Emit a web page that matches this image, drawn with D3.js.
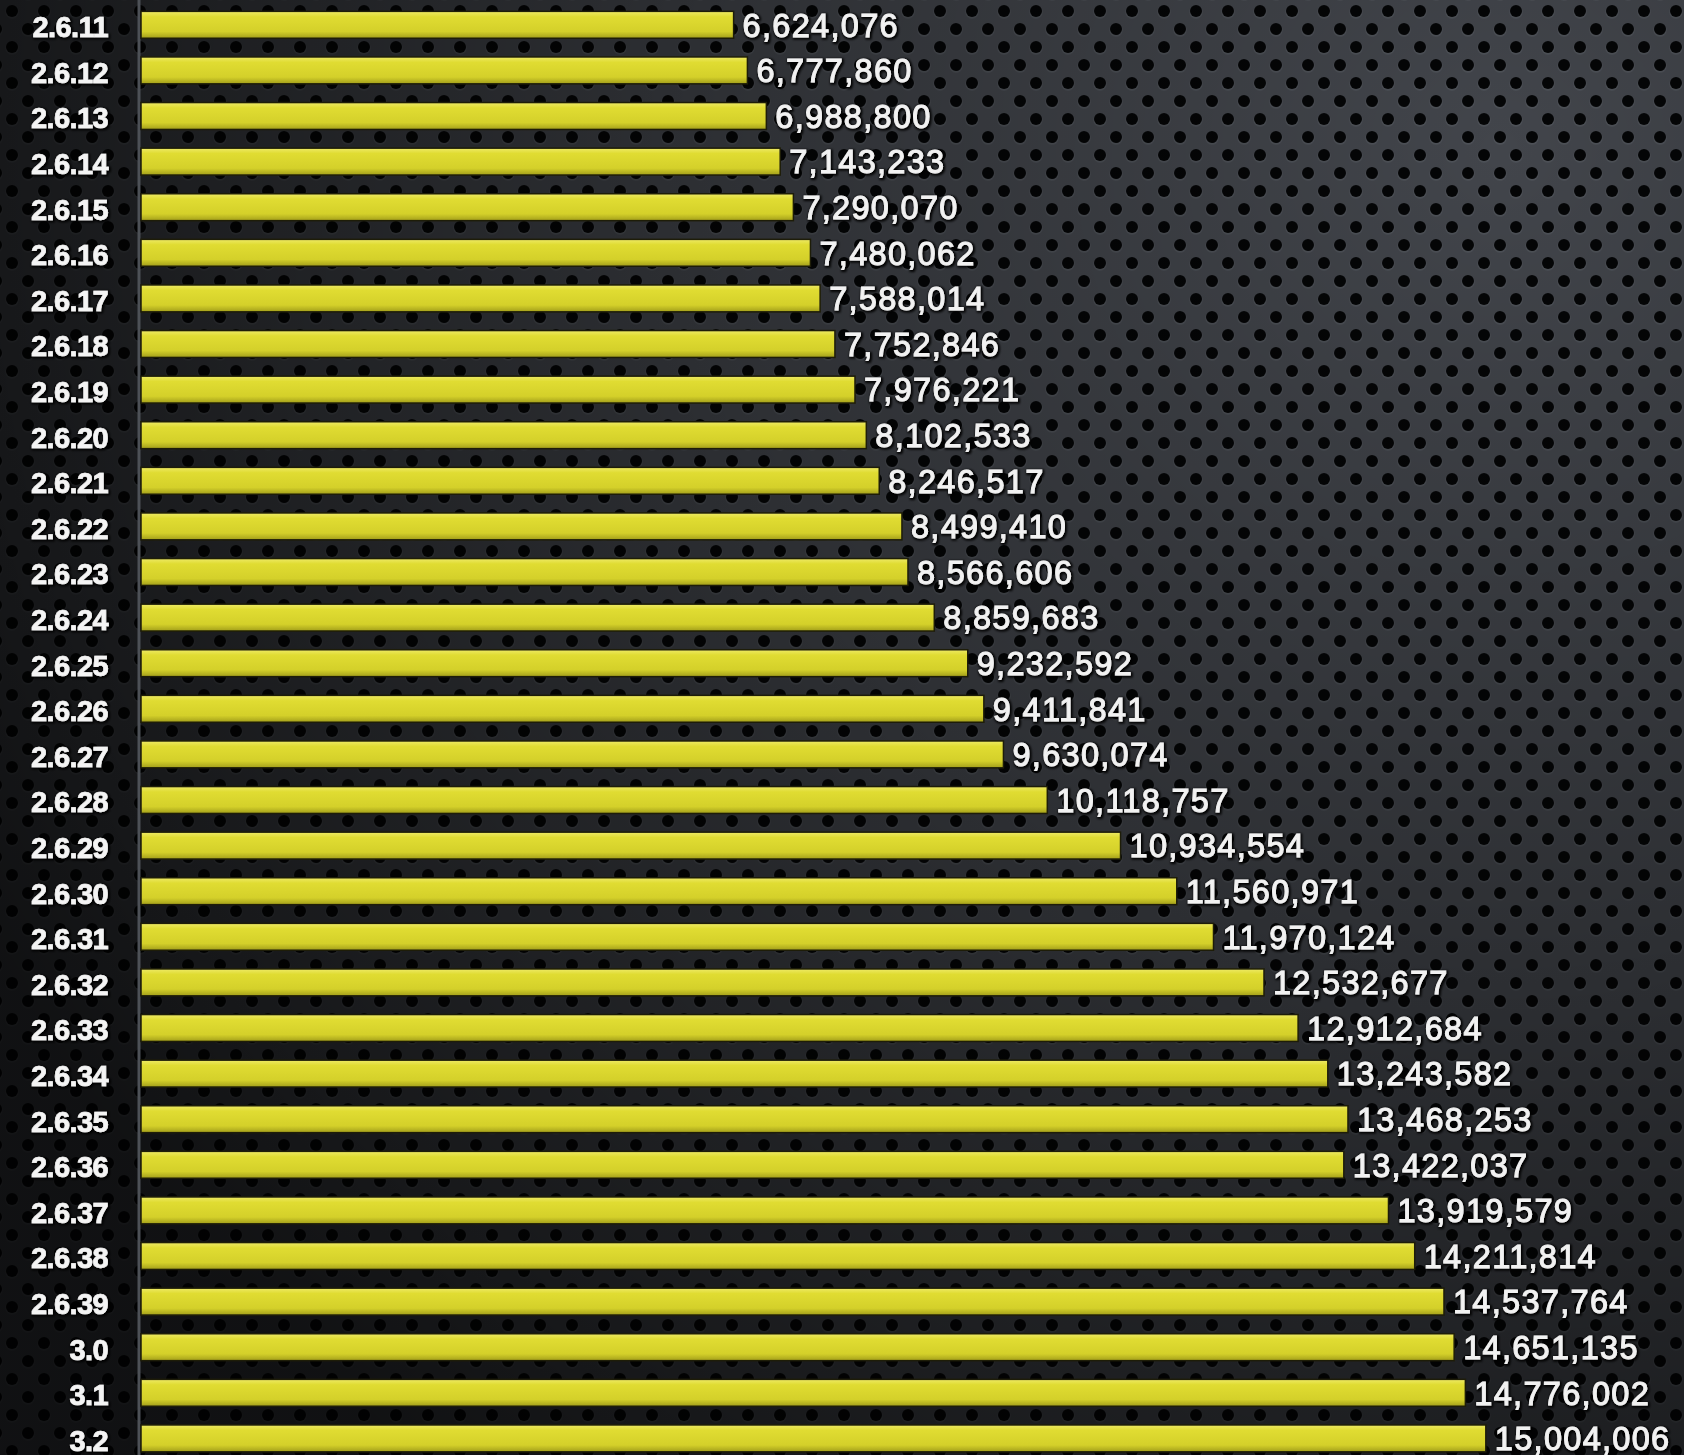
<!DOCTYPE html>
<html>
<head>
<meta charset="utf-8">
<script src="https://cdn.jsdelivr.net/npm/d3@7"></script>
<style>
  html, body { margin: 0; padding: 0; background: #1c1e22; }
  svg { display: block; }
</style>
</head>
<body>
<div id="chart"></div>
<script>
const categories = ["2.6.11","2.6.12","2.6.13","2.6.14","2.6.15","2.6.16","2.6.17","2.6.18","2.6.19","2.6.20",
  "2.6.21","2.6.22","2.6.23","2.6.24","2.6.25","2.6.26","2.6.27","2.6.28","2.6.29","2.6.30",
  "2.6.31","2.6.32","2.6.33","2.6.34","2.6.35","2.6.36","2.6.37","2.6.38","2.6.39","3.0","3.1","3.2"];
const values = [6624076,6777860,6988800,7143233,7290070,7480062,7588014,7752846,7976221,8102533,
  8246517,8499410,8566606,8859683,9232592,9411841,9630074,10118757,10934554,11560971,
  11970124,12532677,12912684,13243582,13468253,13422037,13919579,14211814,14537764,14651135,14776002,15004006];

const W = 1684, H = 1455;
const data = categories.map((c, i) => ({ cat: c, val: values[i] }));

const svg = d3.select("#chart").append("svg").attr("width", W).attr("height", H);
const defs = svg.append("defs");

// perforated metal pattern
const pat = defs.append("pattern").attr("id", "perf").attr("patternUnits", "userSpaceOnUse")
  .attr("width", 32).attr("height", 36).attr("x", 0).attr("y", 2);
pat.append("rect").attr("width", 32).attr("height", 36).attr("fill", "#42454b");
[[12, 9], [28, 27], [-4, 27], [12, 45], [12, -27]].forEach(([cx, cy]) => {
  pat.append("circle").attr("cx", cx).attr("cy", cy + 1.2).attr("r", 6.6).attr("fill", "#5c6066").attr("opacity", 0.45);
  pat.append("circle").attr("cx", cx).attr("cy", cy).attr("r", 6).attr("fill", "#040506");
});

const vign = defs.append("radialGradient").attr("id", "vign")
  .attr("gradientUnits", "userSpaceOnUse").attr("cx", 1500).attr("cy", 150).attr("r", 1700);
vign.append("stop").attr("offset", "0").attr("stop-color", "#000").attr("stop-opacity", 0);
vign.append("stop").attr("offset", "0.45").attr("stop-color", "#000").attr("stop-opacity", 0.3);
vign.append("stop").attr("offset", "1").attr("stop-color", "#000").attr("stop-opacity", 0.75);

const barGrad = defs.append("linearGradient").attr("id", "barGrad").attr("x1", 0).attr("y1", 0).attr("x2", 0).attr("y2", 1);
barGrad.append("stop").attr("offset", "0").attr("stop-color", "#eeea66");
barGrad.append("stop").attr("offset", "0.2").attr("stop-color", "#e0dc32");
barGrad.append("stop").attr("offset", "0.75").attr("stop-color", "#d4d02a");
barGrad.append("stop").attr("offset", "1").attr("stop-color", "#a29e1a");

// dark outline + shadow for text
const tf = defs.append("filter").attr("id", "txtShadow").attr("x", "-10%").attr("y", "-40%").attr("width", "120%").attr("height", "180%");
tf.append("feMorphology").attr("in", "SourceAlpha").attr("operator", "dilate").attr("radius", 1.3).attr("result", "dil");
tf.append("feGaussianBlur").attr("in", "dil").attr("stdDeviation", 1.2).attr("result", "blur");
tf.append("feOffset").attr("in", "blur").attr("dx", 0.5).attr("dy", 1).attr("result", "off");
tf.append("feFlood").attr("flood-color", "#000").attr("flood-opacity", 0.95);
tf.append("feComposite").attr("in2", "off").attr("operator", "in").attr("result", "shadow");
const fm = tf.append("feMerge");
fm.append("feMergeNode").attr("in", "shadow");
fm.append("feMergeNode").attr("in", "SourceGraphic");

svg.append("rect").attr("width", W).attr("height", H).attr("fill", "url(#perf)");
svg.append("rect").attr("width", W).attr("height", H).attr("fill", "url(#vign)");

const x = d3.scaleLinear().domain([0, 17000000]).range([139, 1665]);
const y = d3.scaleBand().domain(categories).range([2, 2 + 32 * 45.6]).paddingInner(0.41).paddingOuter(0.205);

// axis line
svg.append("line").attr("x1", x(0)).attr("x2", x(0)).attr("y1", 0).attr("y2", H)
  .attr("stroke", "#4d5157").attr("stroke-width", 3);

// bars
svg.append("g").selectAll("rect").data(data).join("rect")
  .attr("x", x(0) + 2)
  .attr("y", d => y(d.cat))
  .attr("width", d => x(d.val) - x(0) - 2)
  .attr("height", y.bandwidth())
  .attr("fill", "url(#barGrad)")
  .attr("stroke", "#1e1d08")
  .attr("stroke-width", 1.5);

// category labels via axis
const yAxis = d3.axisLeft(y).tickSize(0).tickPadding(0);
const ag = svg.append("g").attr("transform", `translate(108,0)`).call(yAxis);
ag.select(".domain").remove();
ag.selectAll("text")
  .attr("fill", "#f4f4f4")
  .attr("stroke", "#f4f4f4")
  .attr("stroke-width", 0.6)
  .attr("font-family", "'Liberation Sans', Arial, sans-serif")
  .attr("font-weight", "bold")
  .attr("font-size", 29)
  .attr("letter-spacing", "-0.6")
  .attr("dy", "0.36em")
  .attr("transform", "translate(0,2)")
  .attr("filter", "url(#txtShadow)");

// value labels
const fmt = d3.format(",");
svg.append("g").selectAll("text").data(data).join("text")
  .attr("x", d => x(d.val) + 9)
  .attr("y", d => y(d.cat) + y.bandwidth() / 2)
  .attr("dy", "0.36em")
  .attr("fill", "#f2f2f2")
  .attr("stroke", "#f2f2f2")
  .attr("stroke-width", 0.9)
  .attr("font-family", "'Liberation Sans', Arial, sans-serif")
  .attr("font-size", 32.5)
  .attr("letter-spacing", "1.3")
  .attr("filter", "url(#txtShadow)")
  .text(d => fmt(d.val));
</script>
</body>
</html>
